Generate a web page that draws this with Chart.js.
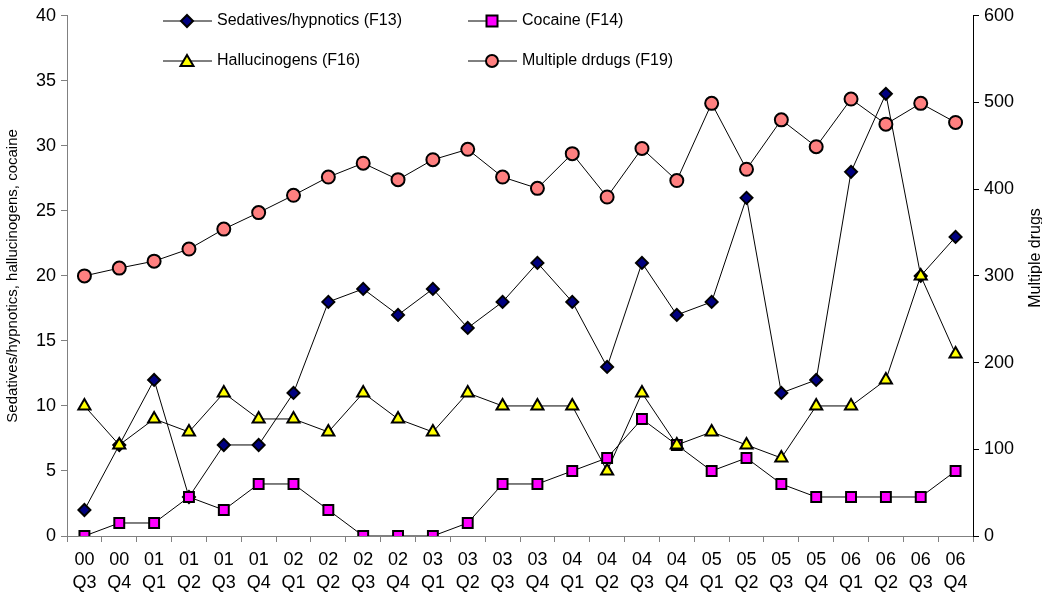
<!DOCTYPE html>
<html>
<head>
<meta charset="utf-8">
<script src="https://cdn.jsdelivr.net/npm/chart.js@4.4.0/dist/chart.umd.min.js"></script>
<style>
  html, body { margin: 0; padding: 0; background: #fff; }
  #wrap { width: 1042px; height: 599px; position: relative; }
</style>
</head>
<body>
<div id="wrap"><canvas id="drugs"></canvas></div>
<script>
// data
const quarters = ['00 Q3','00 Q4','01 Q1','01 Q2','01 Q3','01 Q4','02 Q1','02 Q2','02 Q3','02 Q4',
  '03 Q1','03 Q2','03 Q3','03 Q4','04 Q1','04 Q2','04 Q3','04 Q4','05 Q1','05 Q2','05 Q3','05 Q4',
  '06 Q1','06 Q2','06 Q3','06 Q4'];
const sedatives = [2,7,12,3,7,7,11,18,19,17,19,16,18,21,18,13,21,17,18,26,11,12,28,34,20,23];
const cocaine = [0,1,1,3,2,4,4,2,0,0,0,1,4,4,5,6,9,7,5,6,4,3,3,3,3,5];
const hallucinogens = [10,7,9,8,11,9,9,8,11,9,8,11,10,10,10,5,11,7,8,7,6,10,10,12,20,14];
const multiple = [300,309,317,331,354,373,393,414,430,411,434,446,414,401,441,391,447,410,499,423,480,449,504,475,499,477];
const leftTicks = [0,5,10,15,20,25,30,35,40];
const rightTicks = [0,100,200,300,400,500,600];

const FONT = "'Liberation Sans', Arial, sans-serif";

// legend drawn by hand, 2 x 2 like the original
const legendItems = [
  {label: 'Sedatives/hypnotics (F13)', shape: 'diamond', fill: '#000080', x: 163, y: 21},
  {label: 'Cocaine (F14)', shape: 'square', fill: '#ff00ff', x: 468, y: 21},
  {label: 'Hallucinogens (F16)', shape: 'triangle', fill: '#ffff00', x: 163, y: 61},
  {label: 'Multiple drdugs (F19)', shape: 'circle', fill: '#ff8080', x: 468, y: 61}
];

function drawShape(ctx, shape, cx, cy, fill) {
  ctx.save();
  ctx.fillStyle = fill;
  ctx.strokeStyle = '#000';
  ctx.lineWidth = 2;
  ctx.beginPath();
  if (shape === 'diamond') {
    ctx.moveTo(cx, cy - 6); ctx.lineTo(cx + 6, cy); ctx.lineTo(cx, cy + 6); ctx.lineTo(cx - 6, cy);
  } else if (shape === 'square') {
    ctx.rect(cx - 5.5, cy - 5.5, 11, 11);
  } else if (shape === 'triangle') {
    ctx.moveTo(cx, cy - 6); ctx.lineTo(cx + 6.5, cy + 5); ctx.lineTo(cx - 6.5, cy + 5);
  } else {
    ctx.arc(cx, cy, 6, 0, Math.PI * 2);
  }
  ctx.closePath();
  ctx.fill();
  ctx.stroke();
  ctx.restore();
}

const legendPlugin = {
  id: 'boxLegend',
  afterDraw(chart) {
    const ctx = chart.ctx;
    legendItems.forEach(it => {
      ctx.save();
      ctx.strokeStyle = '#000';
      ctx.lineWidth = 1;
      ctx.beginPath();
      ctx.moveTo(it.x, it.y);
      ctx.lineTo(it.x + 49, it.y);
      ctx.stroke();
      ctx.restore();
      drawShape(ctx, it.shape, it.x + 24, it.y, it.fill);
      ctx.save();
      ctx.fillStyle = '#000';
      ctx.font = '16px ' + FONT;
      ctx.textBaseline = 'middle';
      ctx.fillText(it.label, it.x + 54, it.y);
      ctx.restore();
    });
    // right axis title reads bottom to top in the original
    const y1 = chart.scales.y1;
    ctx.save();
    ctx.translate(1036, 258);
    ctx.rotate(-Math.PI / 2);
    ctx.fillStyle = '#000';
    ctx.font = '16px ' + FONT;
    ctx.textAlign = 'center';
    ctx.textBaseline = 'middle';
    ctx.fillText('Multiple drugs', 0, 0);
    ctx.restore();
  }
};

new Chart(document.getElementById('drugs'), {
  type: 'line',
  data: {
    labels: quarters.map(q => q.split(' ')),
    datasets: [
      {
        label: 'Sedatives/hypnotics (F13)', data: sedatives, yAxisID: 'y', order: 4,
        borderColor: '#000', borderWidth: 1, pointStyle: 'rectRot', pointRadius: 6,
        pointBackgroundColor: '#000080', pointBorderColor: '#000', pointBorderWidth: 2
      },
      {
        label: 'Cocaine (F14)', data: cocaine, yAxisID: 'y', order: 3,
        borderColor: '#000', borderWidth: 1, pointStyle: 'rect', pointRadius: 7,
        pointBackgroundColor: '#ff00ff', pointBorderColor: '#000', pointBorderWidth: 2
      },
      {
        label: 'Hallucinogens (F16)', data: hallucinogens, yAxisID: 'y', order: 2,
        borderColor: '#000', borderWidth: 1, pointStyle: 'triangle', pointRadius: 7,
        pointBackgroundColor: '#ffff00', pointBorderColor: '#000', pointBorderWidth: 2
      },
      {
        label: 'Multiple drdugs (F19)', data: multiple, yAxisID: 'y1', order: 1,
        borderColor: '#000', borderWidth: 1, pointStyle: 'circle', pointRadius: 6.5,
        pointBackgroundColor: '#ff8080', pointBorderColor: '#000', pointBorderWidth: 2
      }
    ]
  },
  options: {
    responsive: true,
    maintainAspectRatio: false,
    animation: false,
    layout: { padding: { top: 10, right: 0, left: 0, bottom: 0 } },
    plugins: { legend: { display: false }, tooltip: { enabled: false } },
    scales: {
      x: {
        offset: true,
        grid: { display: true, drawOnChartArea: false, drawTicks: true, tickLength: 6, color: '#808080', offset: true },
        border: { display: true, color: '#808080', width: 1 },
        ticks: { color: '#000', font: { family: FONT, size: 18, lineHeight: 1.3 }, maxRotation: 0, autoSkip: false, padding: 6 },
        afterFit(scale) { scale.height = 63; }
      },
      y: {
        position: 'left',
        min: 0, max: 40,
        afterBuildTicks(scale) { scale.ticks = leftTicks.map(v => ({value: v})); },
        grid: { drawOnChartArea: false, drawTicks: true, tickLength: 6, color: '#808080' },
        border: { display: true, color: '#808080', width: 1 },
        ticks: { color: '#000', font: { family: FONT, size: 18 }, padding: 5 },
        title: { display: true, text: 'Sedatives/hypnotics, hallucinogens, cocaine', color: '#000', font: { family: FONT, size: 15 }, padding: { top: 4, bottom: 0 } },
        afterFit(scale) { scale.width = 67; }
      },
      y1: {
        position: 'right',
        min: 0, max: 600,
        afterBuildTicks(scale) { scale.ticks = rightTicks.map(v => ({value: v})); },
        grid: { drawOnChartArea: false, drawTicks: true, tickLength: 6, color: '#000' },
        border: { display: true, color: '#000', width: 1 },
        ticks: { color: '#000', font: { family: FONT, size: 18 }, padding: 5 },
        afterFit(scale) { scale.width = 69; }
      }
    }
  },
  plugins: [legendPlugin]
});
</script>
</body>
</html>
